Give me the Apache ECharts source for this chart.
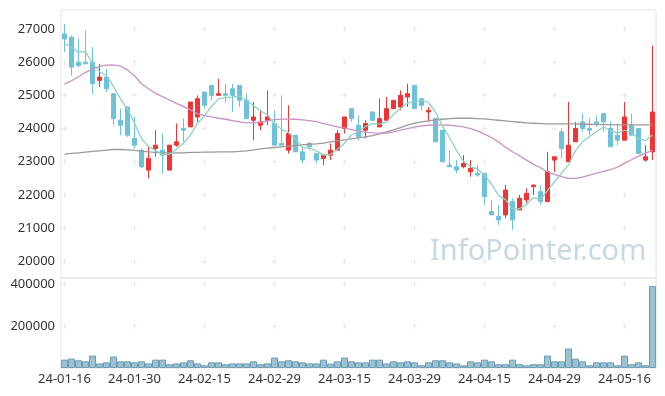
<!DOCTYPE html>
<html><head><meta charset="utf-8">
<script src="https://cdn.jsdelivr.net/npm/echarts@6/dist/echarts.min.js"></script>
<style>html,body{margin:0;padding:0;background:#fff}#c{width:665px;height:396px}</style>
</head><body><div id="c"></div>
<script>
const dates = ['24-01-16','24-01-17','24-01-18','24-01-19','24-01-22','24-01-23','24-01-24','24-01-25','24-01-26','24-01-29',
'24-01-30','24-01-31','24-02-01','24-02-02','24-02-05','24-02-06','24-02-07','24-02-08','24-02-13','24-02-14',
'24-02-15','24-02-16','24-02-19','24-02-20','24-02-21','24-02-22','24-02-23','24-02-26','24-02-27','24-02-28',
'24-02-29','24-03-04','24-03-05','24-03-06','24-03-07','24-03-08','24-03-11','24-03-12','24-03-13','24-03-14',
'24-03-15','24-03-18','24-03-19','24-03-20','24-03-21','24-03-22','24-03-25','24-03-26','24-03-27','24-03-28',
'24-03-29','24-04-01','24-04-02','24-04-03','24-04-04','24-04-05','24-04-08','24-04-09','24-04-11','24-04-12',
'24-04-15','24-04-16','24-04-17','24-04-18','24-04-19','24-04-22','24-04-23','24-04-24','24-04-25','24-04-26',
'24-04-29','24-04-30','24-05-02','24-05-03','24-05-07','24-05-08','24-05-09','24-05-10','24-05-13','24-05-14',
'24-05-16','24-05-17','24-05-20','24-05-21','24-05-22'];
const opens = [26850,26750,26000,26000,26000,25450,25550,25050,24250,24650,
23700,23350,22750,23400,23350,22750,23500,24000,24050,24350,
25100,25300,25000,25050,25200,25300,24850,24250,24100,24250,
24150,23550,23350,23800,23300,23550,23250,23100,23200,23350,
24000,24600,24100,23950,24500,24050,24250,24600,24650,24950,
25300,24900,24500,24300,23950,22900,22850,22850,22700,22650,
22650,21500,21350,21400,21800,21550,21850,22250,22100,21800,
23050,23900,23000,23600,24200,24000,24200,24450,24000,23800,
23650,24100,24000,23050,23300];
const closes = [26700,25850,25900,25950,25350,25550,25200,24300,24100,23800,
23500,22850,23100,23500,23200,23500,23600,23950,24800,24900,
24700,25000,25050,25000,25000,24850,24300,24350,24200,24350,
23500,23500,23850,23300,23050,23450,23050,23200,23350,23850,
24350,24300,23750,24150,24250,24300,24600,24850,25000,25050,
24600,24700,24550,23600,23000,22850,22750,22950,22800,22600,
21950,21400,21250,22150,21250,21900,22050,22300,21800,22700,
23150,23400,23500,24000,24000,23950,24150,24200,23450,23650,
24350,23800,23250,23150,24500];
const lows = [26300,25600,25850,25950,25050,25250,25100,24100,23800,23750,
23400,22800,22500,23150,22650,22750,23450,23600,24050,24200,
24600,24850,25000,24800,24500,24650,24300,23650,23950,24100,
23500,23500,23250,23300,22950,23350,22950,22900,23050,23350,
23850,24200,23650,23700,24250,24050,24250,24600,24550,24650,
24600,24550,24200,23600,23000,22850,22650,22800,22550,22550,
21700,21400,21100,21300,20950,21550,21750,22000,21700,21800,
22700,23100,23000,23600,23900,23800,24050,23900,23450,23500,
23650,23800,23250,23000,23050];
const highs = [27150,26800,26700,26950,26450,25950,25800,25050,24600,24650,
24350,23400,23450,23950,23850,23500,24150,24300,24800,25000,
25100,25300,25500,25350,25350,25300,25050,24800,24550,25150,
24550,25000,24700,23800,23450,23600,23250,23200,23550,23950,
24350,24600,24400,24250,24500,24900,24950,24850,25150,25350,
25300,24900,24650,24300,23950,23350,23050,23200,23050,22900,
22650,21850,21700,22300,21900,22000,22200,22300,22300,23300,
23150,24000,24800,24200,24450,24300,24400,24450,24200,24150,
24800,24450,24000,23500,26500];
const ma5 = [26570,26450,26300,26320,25954,25720,25592,25268,24896,24580,
24170,23696,23456,23340,23222,23226,23382,23554,23812,24155,
24389,24666,24893,24932,24948,24981,24839,24695,24537,24409,
24138,23979,23874,23689,23426,23414,23328,23204,23220,23378,
23561,23806,23910,24064,24146,24136,24198,24425,24602,24767,
24825,24845,24785,24498,24081,23730,23339,23014,22856,22778,
22597,22330,21987,21860,21593,21585,21711,21927,21853,22140,
22391,22660,22901,23341,23600,23758,23909,24046,23935,23864,
23949,23880,23687,23634,23809];
const ma20 = [25340,25440,25560,25690,25790,25870,25910,25920,25880,25760,
25590,25350,25200,25060,24960,24860,24760,24660,24560,24450,
24390,24350,24310,24280,24240,24200,24170,24170,24190,24230,
24270,24285,24285,24280,24260,24240,24210,24150,24100,24050,
24020,23970,23920,23890,23870,23860,23860,23900,23950,24000,
24040,24080,24100,24110,24110,24100,24080,24050,24000,23930,
23830,23730,23600,23440,23300,23180,23050,22920,22820,22700,
22620,22550,22500,22500,22540,22600,22660,22710,22760,22840,
22950,23060,23170,23260,23340];
const ma60 = [23230,23250,23270,23290,23310,23330,23350,23370,23370,23360,
23340,23320,23300,23280,23270,23270,23270,23270,23280,23280,
23290,23290,23300,23300,23300,23310,23330,23360,23390,23410,
23430,23450,23470,23490,23510,23530,23540,23560,23600,23630,
23660,23690,23720,23750,23790,23840,23900,23960,24030,24100,
24160,24200,24230,24260,24280,24300,24310,24310,24310,24300,
24290,24270,24250,24230,24210,24190,24170,24160,24150,24140,
24140,24140,24140,24140,24130,24130,24120,24120,24120,24110,
24110,24110,24110,24110,24110];
const volumes = [40000,45000,37000,32000,59000,22000,27000,55000,32000,32000,
27000,32000,22000,40000,40000,18000,22000,27000,37000,22000,
13000,27000,27000,18000,22000,22000,22000,32000,18000,22000,
50000,32000,37000,32000,27000,22000,22000,40000,21000,32000,
50000,32000,27000,27000,40000,40000,22000,32000,27000,32000,
27000,13000,27000,37000,37000,27000,22000,13000,32000,27000,
40000,32000,18000,18000,40000,18000,13000,18000,18000,59000,
32000,32000,93000,45000,32000,13000,27000,27000,27000,13000,
59000,18000,27000,13000,392000];
const priceTicks = [20000,21000,22000,23000,24000,25000,26000,27000];
const volumeTicks = [200000,400000];
const labelStep = 10;

const tickDates = dates.filter((d, i) => i % labelStep === 0);
const candleData = dates.map((d, i) => [opens[i], closes[i], lows[i], highs[i]]);
const crossMain = [];
tickDates.forEach(d => priceTicks.forEach(v => crossMain.push([d, v])));
const crossVol = [];
tickDates.forEach(d => volumeTicks.forEach(v => crossVol.push([d, v])));

const FONT = 'Noto Sans';
const plus = 'path://M2,0h1v2h2v1h-2v2h-1v-2h-2v-1h2z';
const chart = echarts.init(document.getElementById('c'), null, {renderer: 'canvas'});
chart.setOption({
  animation: false,
  backgroundColor: '#fff',
  grid: [
    {left: 61, right: 9, top: 10, height: 268, show: true, borderColor: '#e4e4e4', borderWidth: 1},
    {left: 61, right: 9, top: 278, height: 90, show: true, borderColor: '#e4e4e4', borderWidth: 1}
  ],
  graphic: [{
    type: 'text', left: 430, top: 237, z: 0, silent: true,
    style: {text: 'InfoPointer.com', font: '29px "Noto Sans"', fill: 'rgba(140,178,202,0.5)'}
  }],
  xAxis: [
    {type: 'category', gridIndex: 0, data: dates, boundaryGap: true,
     axisLine: {show: false}, axisTick: {show: false}, axisLabel: {show: false}, splitLine: {show: false}},
    {type: 'category', gridIndex: 1, data: dates, boundaryGap: true,
     axisLine: {show: false}, axisTick: {show: false}, splitLine: {show: false},
     axisLabel: {interval: (i) => i % labelStep === 0, color: '#333', fontFamily: FONT, fontSize: 13, margin: 5}}
  ],
  yAxis: [
    {type: 'value', gridIndex: 0, min: 19500, max: 27570, interval: 500,
     axisLine: {show: false}, axisTick: {show: false}, splitLine: {show: false},
     axisLabel: {color: '#333', fontFamily: FONT, fontSize: 13, margin: 6,
       formatter: v => (priceTicks.indexOf(v) >= 0 ? String(v) : '')}},
    {type: 'value', gridIndex: 1, min: 0, max: 430000, interval: 200000,
     axisLine: {show: false}, axisTick: {show: false}, splitLine: {show: false},
     axisLabel: {color: '#333', fontFamily: FONT, fontSize: 13, margin: 6,
       formatter: v => (volumeTicks.indexOf(v) >= 0 ? String(v) : '')}}
  ],
  series: [
    {type: 'scatter', xAxisIndex: 0, yAxisIndex: 0, data: crossMain, symbol: plus, symbolSize: 5,
     itemStyle: {color: '#e2e2e2'}, silent: true, z: 1},
    {type: 'scatter', xAxisIndex: 1, yAxisIndex: 1, data: crossVol, symbol: plus, symbolSize: 5,
     itemStyle: {color: '#e2e2e2'}, silent: true, z: 1},
    {type: 'candlestick', xAxisIndex: 0, yAxisIndex: 0, data: candleData, barWidth: 5, z: 3,
     itemStyle: {color: '#ee3434', color0: '#6cc2d9', borderColor: '#ee3434', borderColor0: '#6cc2d9', borderWidth: 1}},
    {type: 'line', xAxisIndex: 0, yAxisIndex: 0, data: ma60, symbol: 'none', z: 4,
     lineStyle: {color: '#9a9a9a', width: 1.3}},
    {type: 'line', xAxisIndex: 0, yAxisIndex: 0, data: ma20, symbol: 'none', z: 4,
     lineStyle: {color: '#c991c6', width: 1.3}},
    {type: 'line', xAxisIndex: 0, yAxisIndex: 0, data: ma5, symbol: 'none', z: 4,
     lineStyle: {color: '#8fd0c4', width: 1.3}},
    {type: 'bar', xAxisIndex: 1, yAxisIndex: 1, data: volumes, barWidth: '100%', z: 3,
     itemStyle: {color: '#9bc2d3', borderColor: '#6e9db3', borderWidth: 1}}
  ]
});
</script></body></html>
